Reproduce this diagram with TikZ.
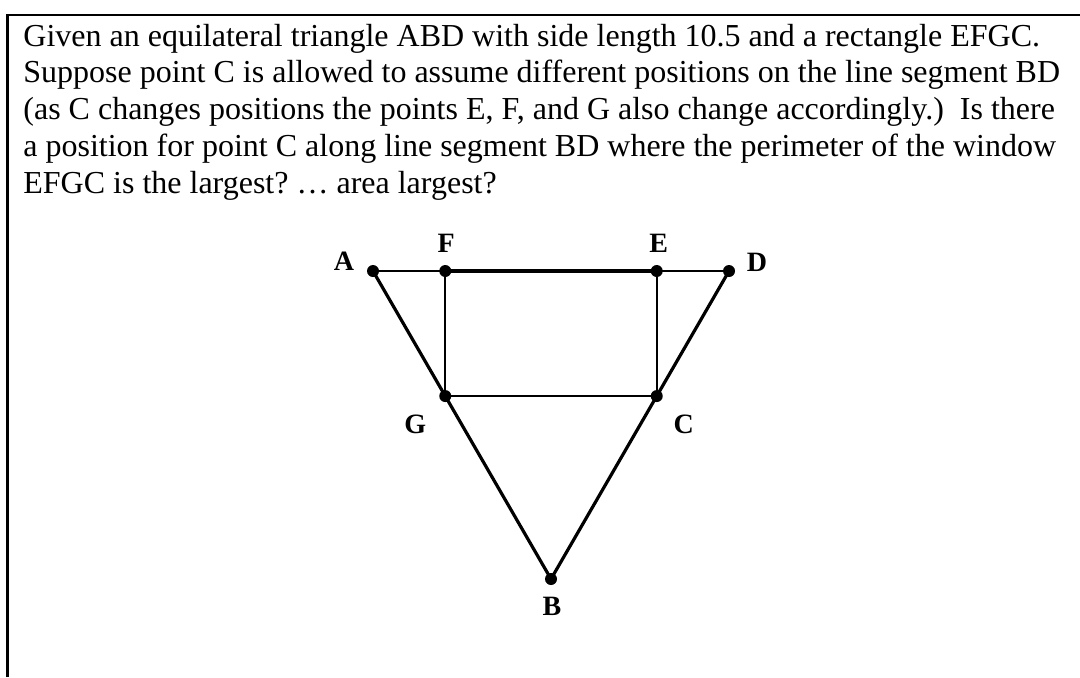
\documentclass[tikz,border=0pt]{standalone}
\usepackage{fontspec}
\setmainfont{Liberation Serif}
\usetikzlibrary{calc}
\begin{document}
\begin{tikzpicture}[x=0.5pt,y=-0.5pt,
  txt/.style={anchor=base west,inner sep=0pt,font=\fontsize{16}{18.4}\selectfont},
  lab/.style={inner sep=0pt,font=\fontsize{14}{14}\selectfont\bfseries},
  dot/.style={circle,fill=black,inner sep=0pt,minimum size=6pt},
  side/.style={line width=1.6pt},
  thin/.style={line width=1.1pt},
  frame/.style={line width=1.2pt}]
\useasboundingbox[fill=white] (0,0) rectangle (1080,677);
% frame
\coordinate (fb) at (7.5,677);
\coordinate (fc) at (7.5,15);
\coordinate (fr) at (1080,15);
\draw[frame] (fb) -- (fc) -- (fr);
% text
\frenchspacing
\node[txt] (t1) at (23,46) {Given an equilateral triangle ABD with side length 10.5 and a rectangle EFGC.};
\node[txt] (t2) at (23,82.8) {Suppose point C is allowed to assume different positions on the line segment BD};
\node[txt] (t3) at (23,119.6) {(as C changes positions the points E, F, and G also change accordingly.)\ \ Is there};
\node[txt] (t4) at (23,156.4) {a position for point C along line segment BD where the perimeter of the window};
\node[txt] (t5) at (23,193.2) {EFGC is the largest? … area largest?};
% figure
\coordinate (pA) at (373,271);
\coordinate (pD) at (729,271);
\coordinate (pB) at (551,579);
\coordinate (pG) at ($(pA)!0.406!(pB)$);
\coordinate (pC) at ($(pD)!0.406!(pB)$);
\coordinate (pF) at (pG |- pA);
\coordinate (pE) at (pC |- pA);
\draw[thin] (pA) -- (pD);
\draw[side] (pA) -- (pB) -- (pD);
\draw[thin] (pF) -- (pG) -- (pC) -- (pE);
\draw[side] (pF) -- (pE);
\foreach \p in {A,B,C,D,E,F,G}{\node[dot] (\p) at (p\p) {};}
\node[lab] (lA) at ($(A)+(-29,-10)$) {A};
\node[lab] (lF) at ($(F)+(1,-28)$) {F};
\node[lab] (lE) at ($(E)+(2,-28)$) {E};
\node[lab] (lD) at ($(D)+(28,-9)$) {D};
\node[lab] (lG) at ($(G)+(-30,28)$) {G};
\node[lab] (lC) at ($(C)+(27,28)$) {C};
\node[lab] (lB) at ($(B)+(1,27)$) {B};
\end{tikzpicture}
\end{document}
